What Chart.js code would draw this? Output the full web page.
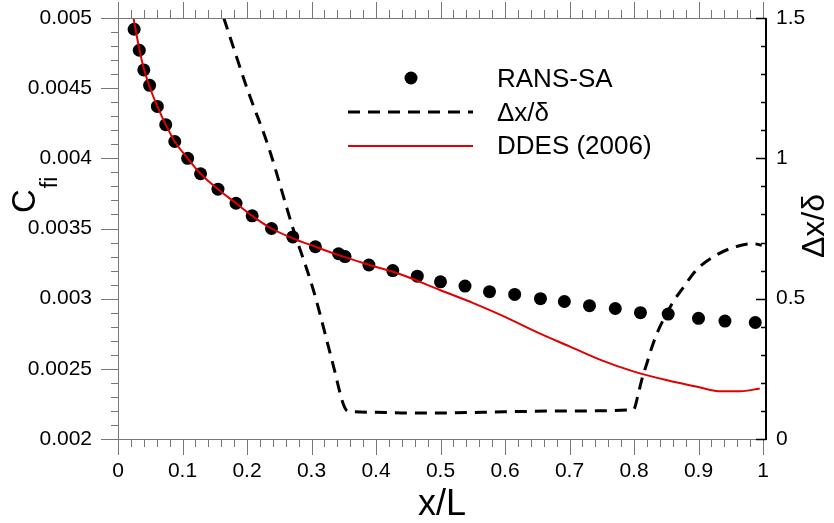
<!DOCTYPE html>
<html>
<head>
<meta charset="utf-8">
<script src="https://cdn.jsdelivr.net/npm/chart.js@4.4.0/dist/chart.umd.min.js"></script>
<style>
  body { margin: 0; background: #fff; }
  #wrap { width: 834px; height: 523px; }
</style>
</head>
<body>
<div id="wrap"><canvas id="cfChart" width="834" height="523"></canvas></div>
<script>
// RANS-SA skin friction (symbols)
const ransX = [0.025, 0.033, 0.040, 0.049, 0.061, 0.074, 0.088, 0.108, 0.128, 0.155,
               0.183, 0.208, 0.238, 0.271, 0.306, 0.342, 0.352, 0.389, 0.426, 0.464,
               0.500, 0.538, 0.576, 0.615, 0.655, 0.692, 0.731, 0.771, 0.810, 0.853,
               0.900, 0.941, 0.988];
const ransCf = [0.00492, 0.00477, 0.00463, 0.00452, 0.00437, 0.00424, 0.00412, 0.00400, 0.00389, 0.00378,
                0.00368, 0.00359, 0.00350, 0.00344, 0.00337, 0.00332, 0.00330, 0.00324, 0.00320, 0.00316,
                0.00312, 0.00309, 0.00305, 0.00303, 0.00300, 0.00298, 0.00295, 0.00293, 0.00290, 0.00289,
                0.00286, 0.00284, 0.00283];

// DDES (2006) skin friction (red line)
const ddesX = [0.024, 0.033, 0.040, 0.049, 0.061, 0.074, 0.088, 0.108, 0.128, 0.155,
               0.183, 0.208, 0.238, 0.271, 0.306, 0.342, 0.390, 0.440, 0.500, 0.550,
               0.600, 0.650, 0.700, 0.750, 0.800, 0.850, 0.900, 0.935, 0.965, 0.995];
const ddesCf = [0.00500, 0.00478, 0.00464, 0.00451, 0.00437, 0.00424, 0.00412, 0.00400, 0.00389, 0.00378,
                0.00368, 0.00359, 0.00350, 0.00343, 0.00337, 0.00331, 0.00324, 0.00317, 0.00306, 0.00297,
                0.00287, 0.00276, 0.00266, 0.00256, 0.00248, 0.00242, 0.00237, 0.00234, 0.00234, 0.00236];

// grid spacing dx/delta (dashed line, right axis)
const dxX = [0.164, 0.200, 0.234, 0.270, 0.303, 0.334, 0.350, 0.356, 0.400, 0.450,
             0.500, 0.600, 0.700, 0.799, 0.807, 0.812, 0.820, 0.828, 0.838, 0.848,
             0.861, 0.874, 0.897, 0.928, 0.959, 0.985, 0.998];
const dxDelta = [1.50, 1.25, 1.036, 0.76, 0.53, 0.26, 0.12, 0.10, 0.095, 0.093,
                 0.093, 0.097, 0.100, 0.104, 0.164, 0.211, 0.270, 0.329, 0.389, 0.436,
                 0.490, 0.532, 0.603, 0.656, 0.686, 0.696, 0.690];

const legendLabels = ['RANS-SA', '\u0394x/\u03b4', 'DDES (2006)'];

const FONT = 'Liberation Sans, Arial, Helvetica, sans-serif';
const AXIS_GRAY = '#777';

const fmt = v => parseFloat(Number(v).toFixed(4)).toString();
const pts = (xs, ys) => xs.map((x, i) => ({ x: x, y: ys[i] }));

// keep the plot box where the reference has it
function fixBox(size, key) {
    return function (s) {
        s[key] = size;
        s.paddingTop = 0;
        s.paddingBottom = 0;
        s.paddingLeft = 0;
        s.paddingRight = 0;
    };
}

// axes frame, minor ticks, titles and legend
const framePlugin = {
    id: 'frame',
    afterDraw(chart) {
        const { ctx, chartArea: a, scales } = chart;
        const sx = scales.x, sy = scales.y, sy2 = scales.y2;
        const rightX = a.right + 3;

        ctx.save();
        ctx.lineWidth = 1;
        ctx.strokeStyle = AXIS_GRAY;

        // top, bottom, left axis lines
        ctx.beginPath();
        ctx.moveTo(a.left, a.top + 0.5); ctx.lineTo(rightX, a.top + 0.5);
        ctx.moveTo(a.left, a.bottom + 0.5); ctx.lineTo(rightX, a.bottom + 0.5);
        ctx.moveTo(a.left + 0.5, a.top); ctx.lineTo(a.left + 0.5, a.bottom);
        ctx.stroke();

        // x ticks, bottom and top, pointing outward
        ctx.beginPath();
        for (let i = 0; i <= 50; i++) {
            const px = Math.round(sx.getPixelForValue(i / 50)) + 0.5;
            const len = i % 5 === 0 ? 16 : 8;
            ctx.moveTo(px, a.bottom); ctx.lineTo(px, a.bottom + len);
            ctx.moveTo(px, a.top); ctx.lineTo(px, a.top - len);
        }
        // left ticks
        for (let i = 0; i <= 30; i++) {
            const py = Math.round(sy.getPixelForValue(0.002 + i * 0.0001)) + 0.5;
            const len = i % 5 === 0 ? 17 : 7;
            ctx.moveTo(a.left, py); ctx.lineTo(a.left - len, py);
        }
        ctx.stroke();

        // right axis, black and heavier, ticks inward
        ctx.strokeStyle = '#000';
        ctx.lineWidth = 2;
        ctx.beginPath();
        ctx.moveTo(rightX, a.top); ctx.lineTo(rightX, a.bottom + 1);
        ctx.stroke();
        ctx.lineWidth = 1.5;
        ctx.beginPath();
        for (let i = 0; i <= 15; i++) {
            const py = Math.round(sy2.getPixelForValue(i * 0.1)) + 0.5;
            const len = i % 5 === 0 ? 10 : 5;
            ctx.moveTo(rightX, py); ctx.lineTo(rightX - len, py);
        }
        ctx.stroke();

        ctx.fillStyle = '#000';
        ctx.textAlign = 'left';
        ctx.textBaseline = 'alphabetic';

        // left title C_fi
        ctx.save();
        ctx.translate(35, 213);
        ctx.rotate(-Math.PI / 2);
        ctx.font = '33px ' + FONT;
        ctx.fillText('C', 0, 0);
        const cw = ctx.measureText('C').width;
        ctx.font = '23px ' + FONT;
        ctx.fillText('fi', cw + 1, 22);
        ctx.restore();

        // right title
        ctx.save();
        ctx.translate(824, 258);
        ctx.rotate(-Math.PI / 2);
        ctx.font = '32px ' + FONT;
        ctx.fillText('\u0394x/\u03b4', 0, 0);
        ctx.restore();

        // bottom title
        ctx.font = '36px ' + FONT;
        ctx.textAlign = 'center';
        ctx.fillText('x/L', 442, 515);

        // legend
        const ds = chart.data.datasets;
        const rows = [78, 112, 146];
        ctx.textAlign = 'left';
        ctx.font = '26px ' + FONT;
        ctx.beginPath();
        ctx.arc(411, rows[0], ds[1].pointRadius, 0, Math.PI * 2);
        ctx.fillStyle = ds[1].backgroundColor;
        ctx.fill();
        ctx.setLineDash(ds[2].borderDash);
        ctx.lineWidth = ds[2].borderWidth;
        ctx.strokeStyle = ds[2].borderColor;
        ctx.beginPath();
        ctx.moveTo(348, rows[1]); ctx.lineTo(473, rows[1]);
        ctx.stroke();
        ctx.setLineDash([]);
        ctx.lineWidth = ds[0].borderWidth;
        ctx.strokeStyle = ds[0].borderColor;
        ctx.beginPath();
        ctx.moveTo(348, rows[2]); ctx.lineTo(473, rows[2]);
        ctx.stroke();

        ctx.fillStyle = '#000';
        ctx.fillText(legendLabels[0], 497, rows[0] + 9);
        ctx.fillText(legendLabels[1], 497, rows[1] + 9);
        ctx.fillText(legendLabels[2], 497, rows[2] + 8);
        ctx.restore();
    }
};

const tickFont = { family: FONT, size: 21 };

new Chart(document.getElementById('cfChart'), {
    type: 'scatter',
    data: {
        datasets: [
            {
                label: legendLabels[2],
                data: pts(ddesX, ddesCf),
                showLine: true,
                borderColor: '#e00000',
                borderWidth: 2,
                pointRadius: 0,
                cubicInterpolationMode: 'monotone',
                yAxisID: 'y',
                order: 1
            },
            {
                label: legendLabels[0],
                data: pts(ransX, ransCf),
                showLine: false,
                pointRadius: 6.5,
                pointBorderWidth: 0,
                backgroundColor: '#000',
                borderColor: '#000',
                yAxisID: 'y',
                order: 2
            },
            {
                label: legendLabels[1],
                data: pts(dxX, dxDelta),
                showLine: true,
                borderColor: '#000',
                borderWidth: 3,
                borderDash: [12, 8],
                pointRadius: 0,
                cubicInterpolationMode: 'monotone',
                yAxisID: 'y2',
                order: 3
            }
        ]
    },
    options: {
        responsive: false,
        animation: false,
        layout: { padding: { top: 18, left: 0, right: 0, bottom: 0 } },
        plugins: {
            legend: { display: false },
            tooltip: { enabled: false }
        },
        scales: {
            x: {
                type: 'linear',
                position: 'bottom',
                min: 0,
                max: 1,
                grid: { display: false, drawTicks: false },
                border: { display: false },
                ticks: { stepSize: 0.1, font: tickFont, color: '#000', padding: 20, maxRotation: 0, autoSkip: false, callback: fmt },
                afterFit: fixBox(84, 'height')
            },
            y: {
                position: 'left',
                min: 0.002,
                max: 0.005,
                grid: { display: false, drawTicks: false },
                border: { display: false },
                ticks: { stepSize: 0.0005, font: tickFont, color: '#000', padding: 26, callback: fmt },
                afterFit: fixBox(118, 'width')
            },
            y2: {
                position: 'right',
                min: 0,
                max: 1.5,
                grid: { display: false, drawTicks: false },
                border: { display: false },
                ticks: { stepSize: 0.5, font: tickFont, color: '#000', padding: 13, callback: fmt },
                afterFit: fixBox(71, 'width')
            }
        }
    },
    plugins: [framePlugin]
});
</script>
</body>
</html>
